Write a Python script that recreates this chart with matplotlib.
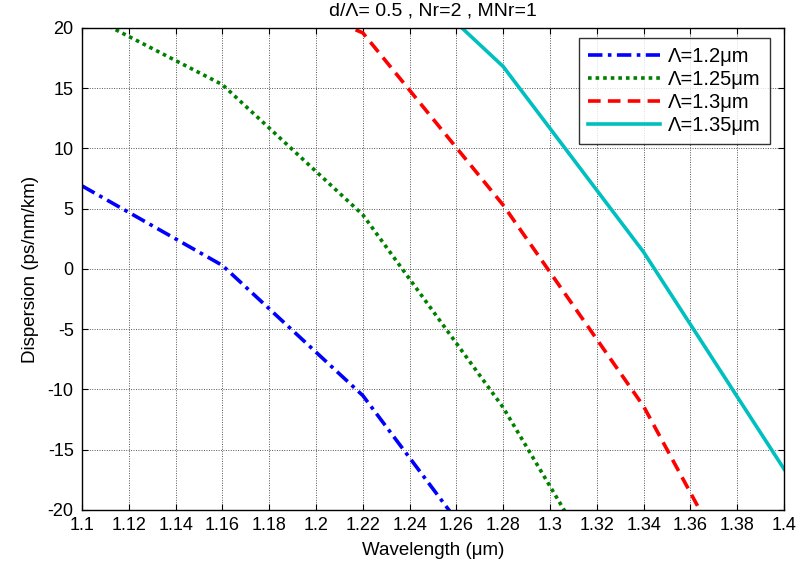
import numpy as np
import matplotlib
matplotlib.use('Agg')
import matplotlib.pyplot as plt
from matplotlib.ticker import FuncFormatter

plt.rcParams['font.family'] = ['Liberation Sans', 'DejaVu Sans']
plt.rcParams['axes.unicode_minus'] = False

# data (dispersion in ps/nm/km vs wavelength in um)
x_12 = [1.10, 1.16, 1.22, 1.28]
d_12 = [6.9, 0.3, -10.5, -26.0]

x_125 = [1.10, 1.16, 1.22, 1.28, 1.34]
d_125 = [21.3, 15.3, 4.5, -11.5, -31.1]

x_13 = [1.16, 1.22, 1.28, 1.34, 1.40]
d_13 = [24.5, 19.6, 5.3, -11.4, -32.9]

x_135 = [1.22, 1.28, 1.34, 1.40]
d_135 = [27.7, 16.8, 1.4, -16.6]

labels = ['\u039b=1.2\u03bcm', '\u039b=1.25\u03bcm', '\u039b=1.3\u03bcm', '\u039b=1.35\u03bcm']
xticks = np.round(np.arange(1.10, 1.401, 0.02), 2)
yticks = np.arange(-20, 21, 5)

fig = plt.figure(figsize=(8.02, 5.69), dpi=100)
ax = fig.add_axes([0.1022, 0.1037, 0.8754, 0.8471])

lw = 2.6
ax.plot(x_12, d_12, color='#0000ff', lw=lw, linestyle=(0, (4, 1.5, 1, 1.5)), label=labels[0])
ax.plot(x_125, d_125, color='#008000', lw=lw, linestyle=(0, (1, 1.1)), label=labels[1])
ax.plot(x_13, d_13, color='#ff0000', lw=lw, linestyle=(0, (3.5, 2)), label=labels[2])
ax.plot(x_135, d_135, color='#00bfbf', lw=lw, linestyle='-', label=labels[3])

ax.set_xlim(1.1, 1.4)
ax.set_ylim(-20, 20)
ax.set_xticks(xticks)
ax.set_yticks(yticks)
ax.xaxis.set_major_formatter(FuncFormatter(lambda v, p: '%g' % round(v, 2)))
ax.tick_params(direction='in', top=True, right=True, length=4, labelsize=13)
ax.tick_params(axis='x', pad=5)
ax.tick_params(axis='y', pad=6)
ax.grid(True, color='#555555', linestyle=(0, (1, 1.5)), linewidth=0.7)
for s in ax.spines.values():
    s.set_linewidth(1.0)

ax.set_xlabel('Wavelength (\u03bcm)', fontsize=13.5, labelpad=6)
ax.set_ylabel('Dispersion (ps/nm/km)', fontsize=13.5, labelpad=6)
ax.set_title('d/\u039b= 0.5 , Nr=2 , MNr=1', fontsize=14, pad=9)

leg = ax.legend(loc='upper right', bbox_to_anchor=(0.980, 0.979), fontsize=14.5, frameon=True,
                fancybox=False, edgecolor='black', handlelength=3.6, borderpad=0.45,
                labelspacing=0.2, handletextpad=0.4, borderaxespad=0)
leg.get_frame().set_linewidth(1.0)

fig.savefig('out.png', dpi=100)
